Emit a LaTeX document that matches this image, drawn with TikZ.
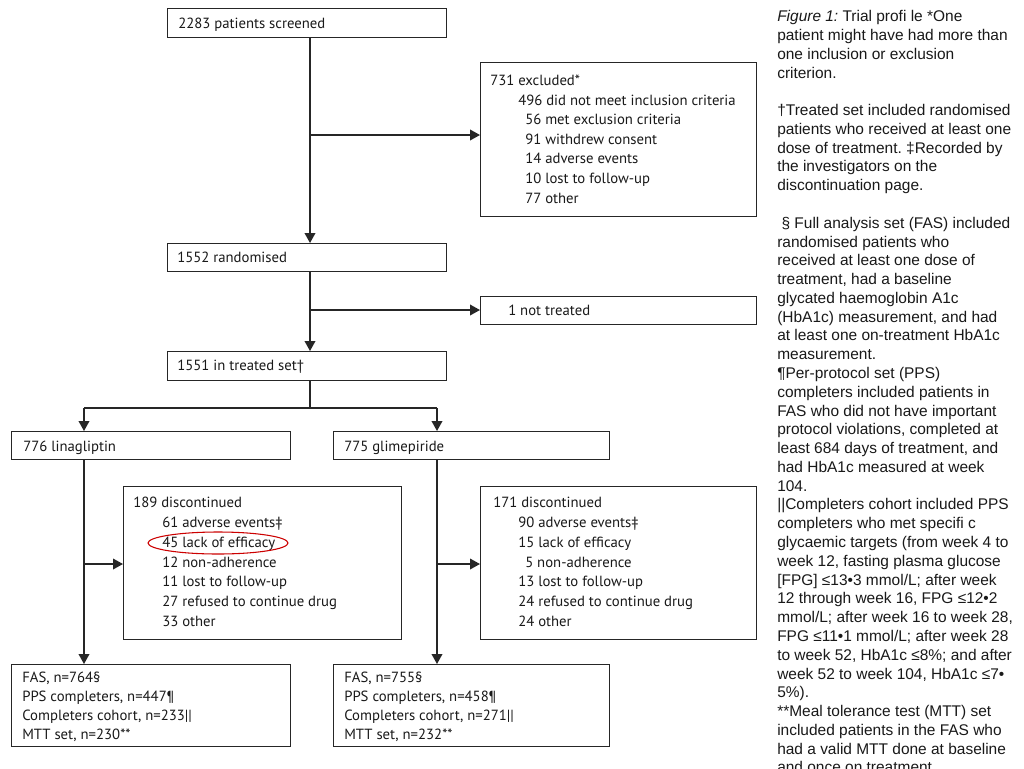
\documentclass[tikz,border=0pt]{standalone}
\usepackage{fontspec}
\setmainfont{PT Sans}
\newfontfamily\notefont{Liberation Sans}
\usetikzlibrary{arrows.meta}
\frenchspacing
\newcommand\pbox[5]{\node[box, minimum width=#4*0.75pt, minimum height=#5*0.75pt] (#1) at (#2,#3) {};}
\begin{document}
\begin{tikzpicture}[x=0.75pt,y=-0.75pt,
  box/.style={draw=black!85, line width=1.1pt, rectangle, inner sep=0pt, anchor=north west},
  lbl/.style={anchor=base west, inner sep=0pt, font=\fontsize{11.05}{13}\selectfont, text=black!90},
  note/.style={anchor=base west, inner sep=0pt, font=\notefont\fontsize{11.6}{14}\selectfont, text=black!90},
  conn/.style={line width=1.1pt, draw=black!85},
  arr/.style={conn, -{Triangle[length=7.5pt,width=8pt]}},
  ring/.style={draw=red!80!black, line width=0.8pt}]
\useasboundingbox (0,0) rectangle (1024,768);
\fill[white] (0,0) rectangle (1024,768);

% boxes
\pbox{scr}{167}{8}{279}{29}
\pbox{exc}{480}{62}{276}{154}
\pbox{rnd}{167}{243}{279}{28}
\pbox{nt}{480}{296}{276}{28}
\pbox{trt}{167}{351}{279}{29}
\pbox{lin}{11}{431}{279}{28}
\pbox{gli}{333}{431}{276}{28}
\pbox{dis1}{123}{486}{278}{153}
\pbox{dis2}{480}{486}{276}{153}
\pbox{fas1}{11}{664}{279}{82}
\pbox{fas2}{333}{664}{276}{82}

% box texts
\node[lbl] (t-scr) at (178,28) {2283 patients screened};
\node[lbl] (t-exc0) at (490,85) {731 excluded*};
\node[lbl] (t-exc1) at (518,105) {496 did not meet inclusion criteria};
\node[lbl] (t-exc2) at (525,124) {56 met exclusion criteria};
\node[lbl] (t-exc3) at (525,144) {91 withdrew consent};
\node[lbl] (t-exc4) at (525,163) {14 adverse events};
\node[lbl] (t-exc5) at (525,183) {10 lost to follow-up};
\node[lbl] (t-exc6) at (525,203) {77 other};
\node[lbl] (t-rnd) at (177,262) {1552 randomised};
\node[lbl] (t-nt) at (508,315) {1 not treated};
\node[lbl] (t-trt) at (177,370) {1551 in treated set†};
\node[lbl] (t-lin) at (23,451) {776 linagliptin};
\node[lbl] (t-gli) at (344,451) {775 glimepiride};

\node[lbl] (t-d10) at (133,507) {189 discontinued};
\node[lbl] (t-d11) at (162,527) {61 adverse events‡};
\node[lbl] (t-d12) at (162,547) {45 lack of efficacy};
\node[lbl] (t-d13) at (162,567) {12 non-adherence};
\node[lbl] (t-d14) at (162,586) {11 lost to follow-up};
\node[lbl] (t-d15) at (162,606) {27 refused to continue drug};
\node[lbl] (t-d16) at (162,626) {33 other};

\node[lbl] (t-d20) at (493,507) {171 discontinued};
\node[lbl] (t-d21) at (518,527) {90 adverse events‡};
\node[lbl] (t-d22) at (518,547) {15 lack of efficacy};
\node[lbl] (t-d23) at (525,567) {5 non-adherence};
\node[lbl] (t-d24) at (518,586) {13 lost to follow-up};
\node[lbl] (t-d25) at (518,606) {24 refused to continue drug};
\node[lbl] (t-d26) at (518,626) {24 other};

\node[lbl] (t-f10) at (22,682) {FAS, n=764§};
\node[lbl] (t-f11) at (22,701) {PPS completers, n=447¶};
\node[lbl] (t-f12) at (22,720) {Completers cohort, n=233||};
\node[lbl] (t-f13) at (22,739) {MTT set, n=230**};
\node[lbl] (t-f20) at (344,682) {FAS, n=755§};
\node[lbl] (t-f21) at (344,701) {PPS completers, n=458¶};
\node[lbl] (t-f22) at (344,720) {Completers cohort, n=271||};
\node[lbl] (t-f23) at (344,739) {MTT set, n=232**};

% red ring
\draw[ring] (218,543) ellipse [x radius=70, y radius=11];

% connectors
\coordinate (m) at (310,0);
\coordinate (e) at (310,135);
\coordinate (n) at (310,310);
\coordinate (sp) at (310,408);
\coordinate (la) at (84,408);
\coordinate (ga) at (437,408);
\coordinate (lb) at (84,564);
\coordinate (gb) at (437,564);
\draw[arr] (scr.south -| m) -- (rnd.north -| m);
\draw[arr] (e) -- (e -| exc.west);
\draw[arr] (rnd.south -| m) -- (trt.north -| m);
\draw[arr] (n) -- (n -| nt.west);
\draw[conn] (trt.south -| m) -- (sp);
\draw[conn] (la) -- (ga);
\draw[arr] (la) -- (lin.north -| la);
\draw[arr] (ga) -- (gli.north -| ga);
\draw[arr] (lin.south -| la) -- (fas1.north -| la);
\draw[arr] (gli.south -| ga) -- (fas2.north -| ga);
\draw[arr] (lb) -- (lb -| dis1.west);
\draw[arr] (gb) -- (gb -| dis2.west);

% notes
\foreach \k/\t in {
 1/{\textit{Figure 1:} Trial profi le *One},
 2/{patient might have had more than},
 3/{one inclusion or exclusion},
 4/{criterion.},
 6/{†Treated set included randomised},
 7/{patients who received at least one},
 8/{dose of treatment. ‡Recorded by},
 9/{the investigators on the},
 10/{discontinuation page.},
 12/{\hspace{0.28em}§ Full analysis set (FAS) included},
 13/{randomised patients who},
 14/{received at least one dose of},
 15/{treatment, had a baseline},
 16/{glycated haemoglobin A1c},
 17/{(HbA1c) measurement, and had},
 18/{at least one on-treatment HbA1c},
 19/{measurement.},
 20/{¶Per-protocol set (PPS)},
 21/{completers included patients in},
 22/{FAS who did not have important},
 23/{protocol violations, completed at},
 24/{least 684 days of treatment, and},
 25/{had HbA1c measured at week},
 26/{104.},
 27/{||Completers cohort included PPS},
 28/{completers who met specifi c},
 29/{glycaemic targets (from week 4 to},
 30/{week 12, fasting plasma glucose},
 31/{[FPG] ≤13•3 mmol/L; after week},
 32/{12 through week 16, FPG ≤12•2},
 33/{mmol/L; after week 16 to week 28,},
 34/{FPG ≤11•1 mmol/L; after week 28},
 35/{to week 52, HbA1c ≤8\%; and after},
 36/{week 52 to week 104, HbA1c ≤7•},
 37/{5\%).},
 38/{**Meal tolerance test (MTT) set},
 39/{included patients in the FAS who},
 40/{had a valid MTT done at baseline},
 41/{and once on treatment.}}
 {\node[note] (note\k) at (777,{21.7+(\k-1)*18.78}) {\t};}
\end{tikzpicture}
\end{document}
